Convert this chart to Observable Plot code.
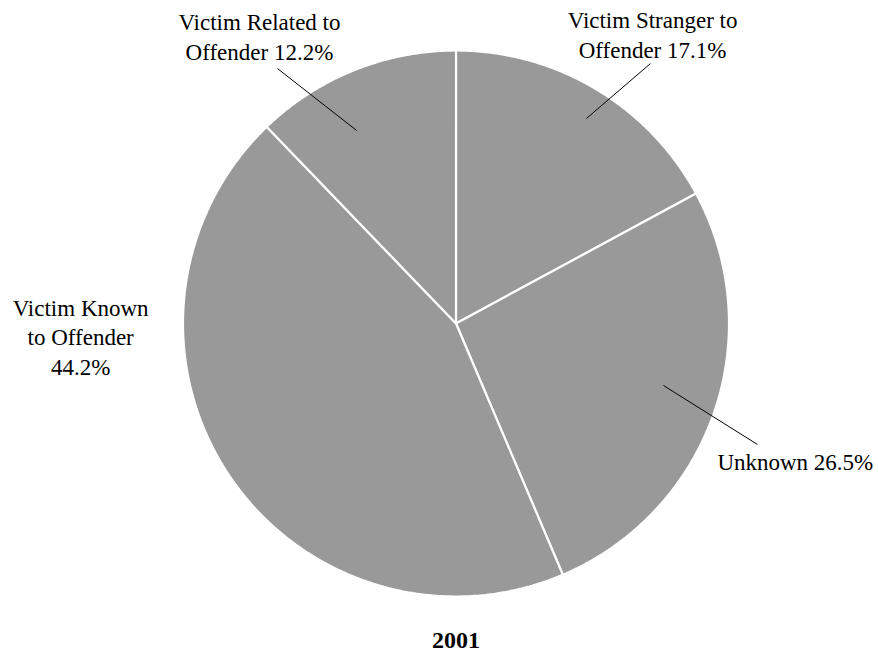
<!DOCTYPE html>
<html>
<head>
<meta charset="utf-8">
<script src="https://cdn.jsdelivr.net/npm/d3@7"></script>
<script src="https://cdn.jsdelivr.net/npm/@observablehq/plot@0.6"></script>
<style>
  html, body { margin: 0; padding: 0; background: #fff; }
  #chart svg { display: block; font-family: "Liberation Serif", "DejaVu Serif", serif !important; }
  #chart svg text { font-family: "Liberation Serif", "DejaVu Serif", serif !important; }
</style>
</head>
<body>
<div id="chart"></div>
<script>
// ---- data ----
const categories = ["Victim Stranger to Offender", "Unknown", "Victim Known to Offender", "Victim Related to Offender"];
const shares = [17.1, 26.5, 44.2, 12.2];
const labelTexts = [
  "Victim Stranger to\nOffender 17.1%",
  "Unknown 26.5%",
  "Victim Known\nto Offender\n44.2%",
  "Victim Related to\nOffender 12.2%"
];
const chartTitle = "2001";

// ---- layout (radius units, centre of pie = 0,0) ----
const labelPos = [
  {x: 0.720, y: 0.974, lead: [[0.478, 0.751], [0.712, 0.952]]},
  {x: 1.243, y: -0.538, lead: [[0.760, -0.227], [1.104, -0.443]]},
  {x: -1.375, y: -0.190, lead: null},
  {x: -0.720, y: 0.967, lead: [[-0.364, 0.707], [-0.654, 0.934]]}
];

const table = categories.map((c, i) => ({name: c, value: shares[i], label: labelTexts[i]}));
const arcs = d3.pie().sort(null).value(d => d.value).startAngle(0).endAngle(2 * Math.PI)(table);

// polygon outline points for each slice
const slicePts = [];
arcs.forEach(a => {
  const name = a.data.name;
  slicePts.push({name, x: 0, y: 0});
  const n = Math.max(8, Math.ceil((a.endAngle - a.startAngle) / 0.01));
  for (let k = 0; k <= n; k++) {
    const t = a.startAngle + (a.endAngle - a.startAngle) * k / n;
    slicePts.push({name, x: Math.sin(t), y: Math.cos(t)});
  }
  slicePts.push({name, x: 0, y: 0});
});

const labels = table.map((d, i) => ({...d, x: labelPos[i].x, y: labelPos[i].y}));
const leaders = table.map((d, i) => labelPos[i].lead ? {
  x1: labelPos[i].lead[0][0], y1: labelPos[i].lead[0][1],
  x2: labelPos[i].lead[1][0], y2: labelPos[i].lead[1][1]
} : null).filter(Boolean);

const cx = 455.5, cy = 323, R = 273;
const serif = "Liberation Serif";

const chart = Plot.plot({
  width: 878,
  height: 654,
  margin: 0,
  style: {background: "#fff"},
  x: {domain: [-1, 1], range: [cx - R, cx + R], axis: null},
  y: {domain: [-1, 1], range: [cy + R, cy - R], axis: null},
  marks: [
    Plot.line(slicePts, {x: "x", y: "y", z: "name", fill: "#999999", stroke: "#ffffff", strokeWidth: 2.2, strokeLinejoin: "miter", curve: "linear"}),
    Plot.link(leaders, {x1: "x1", y1: "y1", x2: "x2", y2: "y2", stroke: "#000", strokeWidth: 1}),
    Plot.text(labels, {x: "x", y: "y", text: "label", textAnchor: "middle", lineAnchor: "bottom", lineHeight: 1.3, fontSize: 23, fontFamily: serif, fill: "#000"}),
    Plot.text([chartTitle], {x: () => 0, y: () => -1.19, text: d => d, textAnchor: "middle", lineAnchor: "bottom", fontSize: 24, fontFamily: serif, fontWeight: "bold", fill: "#000"})
  ]
});
document.getElementById("chart").appendChild(chart);
</script>
</body>
</html>
